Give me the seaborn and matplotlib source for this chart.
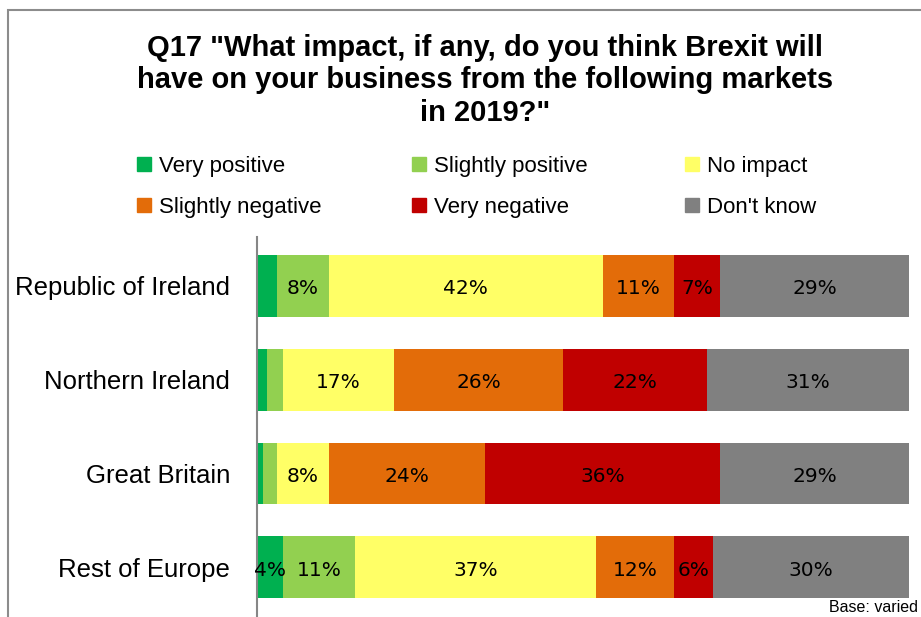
import numpy as np
import pandas as pd
import matplotlib
matplotlib.use("Agg")
import matplotlib.pyplot as plt
import matplotlib.patches as mpatches
import seaborn as sns

# Survey responses (% of businesses) per market
markets = ["Republic of Ireland", "Northern Ireland", "Great Britain", "Rest of Europe"]
responses = ["Very positive", "Slightly positive", "No impact",
             "Slightly negative", "Very negative", "Don't know"]
very_positive = [3, 1.5, 0.9, 4]
slightly_positive = [8, 2.5, 2.1, 11]
no_impact = [42, 17, 8, 37]
slightly_negative = [11, 26, 24, 12]
very_negative = [7, 22, 36, 6]
dont_know = [29, 31, 29, 30]

colors = ["#00B050", "#92D050", "#FFFF66", "#E36C09", "#C00000", "#808080"]

df = pd.DataFrame(
    {"Market": markets,
     "Very positive": very_positive,
     "Slightly positive": slightly_positive,
     "No impact": no_impact,
     "Slightly negative": slightly_negative,
     "Very negative": very_negative,
     "Don't know": dont_know}
)
cum = df[responses].cumsum(axis=1).assign(Market=df["Market"])

sns.set_theme(style="white")
plt.rcParams["font.family"] = ["Liberation Sans", "DejaVu Sans"]
plt.rcParams["text.color"] = "black"
plt.rcParams["ytick.color"] = "black"
plt.rcParams["ytick.labelcolor"] = "black"

fig = plt.figure(figsize=(9.21, 6.17), dpi=100)
ax = fig.add_axes([257 / 921, 0, 652 / 921, (617 - 237) / 617])

# Stacked bars: draw cumulative totals from the outermost segment inward
for resp, col in zip(responses[::-1], colors[::-1]):
    sns.barplot(data=cum, x=resp, y="Market", color=col, orient="h",
                width=0.66, ax=ax, saturation=1, edgecolor="none", linewidth=0)

# Segment value labels
for i in range(len(markets)):
    start = 0.0
    for resp in responses:
        v = df.loc[i, resp]
        if v >= 4:
            ax.text(start + v / 2, i + 0.03, f"{v:.0f}%", ha="center", va="center",
                    fontsize=14.5, family="DejaVu Sans", color="black")
        start += v

ax.set_xlim(0, 100)
ax.set_ylim(3.53, -0.521)
ax.set_xlabel("")
ax.set_ylabel("")
ax.set_xticks([])
ax.tick_params(axis="y", length=0, pad=19.5, labelsize=18.5)
for s in ["top", "right", "bottom"]:
    ax.spines[s].set_visible(False)
ax.spines["left"].set_color("#868686")
ax.spines["left"].set_linewidth(1.5)

# Legend: three columns of two entries each
handles = {r: mpatches.Patch(color=c, label=r) for r, c in zip(responses, colors)}
columns = [(["Very positive", "Slightly negative"], 137),
           (["Slightly positive", "Very negative"], 412),
           (["No impact", "Don't know"], 685)]
for labels, x0 in columns:
    fig.legend([handles[l] for l in labels], labels, ncol=1, loc="upper left",
               bbox_to_anchor=(x0 / 921, 1 - 156 / 617), frameon=False,
               fontsize=16, handlelength=0.63, handleheight=0.6,
               handletextpad=0.36, labelspacing=0.9,
               borderaxespad=0, borderpad=0)

# Title
fig.text(485 / 921, 1 - 34 / 617,
         "Q17 \"What impact, if any, do you think Brexit will\n"
         "have on your business from the following markets\nin 2019?\"",
         ha="center", va="top", fontsize=21, fontweight="bold",
         linespacing=1.2)

fig.text(918 / 921, 1 - 607 / 617, "Base: varied", ha="right", va="center",
         fontsize=11.5)

# Outer frame
fig.patches.append(mpatches.Rectangle((8 / 921, -0.1), 1.2, 1 - 10 / 617 + 0.1,
                                      transform=fig.transFigure, fill=False,
                                      edgecolor="#8c8c8c", linewidth=1.5))

fig.savefig("out.png", dpi=100)
